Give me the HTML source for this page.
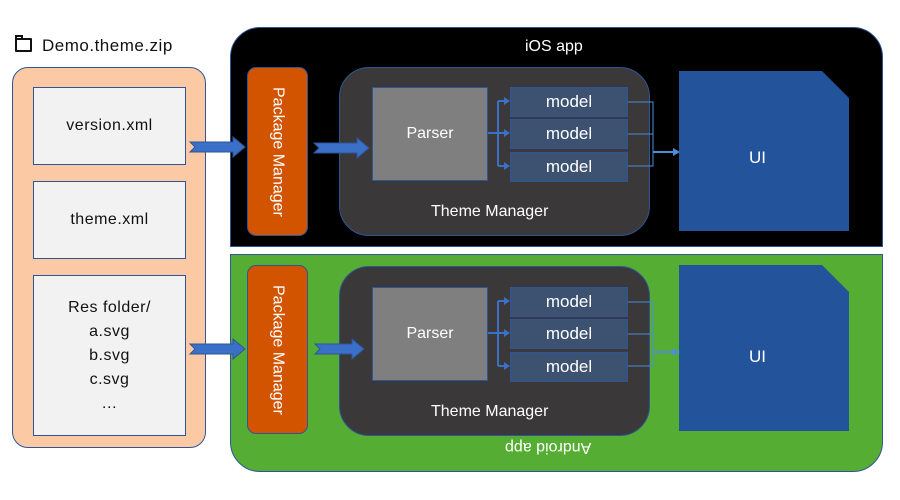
<!DOCTYPE html>
<html><head><style>
body{margin:0;width:900px;height:500px;background:#fff;position:relative;overflow:hidden;font-family:"Liberation Sans","DejaVu Sans",sans-serif}
.a{position:absolute;box-sizing:border-box}
.c{display:flex;align-items:center;justify-content:center;text-align:center}
.f{background:#f2f2f2;border:1px solid #2f5597;color:#111;font-size:16px;letter-spacing:0.5px}
.pm{background:#d35400;border:1px solid #2f5597;border-radius:9px;color:#fff;font-size:16px;writing-mode:vertical-rl}
.tm{background:#3a3838;border:1px solid #2f5597;border-radius:30px}
.ps{background:#7f7f7f;border:1px solid #2f5597;color:#fff;font-size:16px}
.md{background:#3d5270;border:1px solid #2f5597;color:#fff;font-size:17px}
.t{color:#fff;font-size:16px;position:absolute}
</style></head><body>
<div class="a" style="left:15px;top:38px;width:17px;height:14px;border:2px solid #111;border-radius:1px"></div>
<div class="a" style="left:15px;top:35px;width:8px;height:4px;border:2px solid #111;border-bottom:none"></div>
<div class="a" style="left:42px;top:36px;font-size:17px;color:#111;letter-spacing:0.5px">Demo.theme.zip</div>
<div class="a" style="left:12px;top:67px;width:194px;height:381px;background:#fbcaa5;border:1px solid #2f5597;border-radius:16px"></div>
<div class="a f c" style="left:33px;top:87px;width:153px;height:78px">version.xml</div>
<div class="a f c" style="left:33px;top:181px;width:153px;height:78px">theme.xml</div>
<div class="a f c" style="left:33px;top:275px;width:153px;height:161px;line-height:24px">Res folder/<br>a.svg<br>b.svg<br>c.svg<br>…</div>

<div class="a" style="left:230px;top:27px;width:653px;height:220px;background:#000;border:1px solid #2f5597;border-radius:30px 30px 0 0"></div>
<div class="a" style="left:230px;top:254px;width:653px;height:218px;background:#56ad33;border:1px solid #2f5597;border-radius:0 0 30px 30px"></div>
<div class="t" style="left:525px;top:38px">iOS app</div>
<div class="t" style="left:505px;top:438px;transform:rotate(180deg)">Android app</div>

<div class="a pm c" style="left:247px;top:67px;width:61px;height:169px">Package Manager</div>
<div class="a pm c" style="left:247px;top:265px;width:61px;height:169px">Package Manager</div>
<div class="a tm" style="left:339px;top:67px;width:311px;height:169px"></div>
<div class="a tm" style="left:339px;top:266px;width:311px;height:170px"></div>
<div class="t" style="left:431px;top:203px">Theme Manager</div>
<div class="t" style="left:431px;top:403px">Theme Manager</div>
<div class="a ps c" style="left:372px;top:87px;width:116px;height:94px">Parser</div>
<div class="a ps c" style="left:372px;top:287px;width:116px;height:94px">Parser</div>
<div class="a md c" style="left:510px;top:87px;width:118px;height:30px">model</div>
<div class="a md c" style="left:510px;top:119px;width:118px;height:30px">model</div>
<div class="a md c" style="left:510px;top:152px;width:118px;height:30px">model</div>
<div class="a md c" style="left:510px;top:287px;width:118px;height:30px">model</div>
<div class="a md c" style="left:510px;top:319px;width:118px;height:30px">model</div>
<div class="a md c" style="left:510px;top:352px;width:118px;height:30px">model</div>

<svg class="a" style="left:0;top:0" width="900" height="500">
<g fill="#23539a">
<polygon points="679,71 822,71 849,98 849,231 679,231"/>
<polygon points="679,265 822,265 849,292 849,431 679,431"/>
</g>
<g fill="#3a70c8" stroke="#2f5597" stroke-width="1">
<polygon points="190,142 233,142 233,137 245,147 233,157 233,152 190,152 195,147"/>
<polygon points="314,143 357,143 357,138 369,148 357,158 357,153 314,153 319,148"/>
<polygon points="190,344 233,344 233,339 245,349 233,359 233,354 190,354 195,349"/>
<polygon points="295,344 332,344 332,339 344,349 332,359 332,354 295,354 300,349" transform="translate(20,0)"/>
</g>
<g stroke="#3a70c8" stroke-width="2" fill="none">
<path d="M488,133 H498 M498,101 V166 M498,101 H506 M498,133 H506 M498,166 H506"/>
<path d="M488,333 H498 M498,301 V366 M498,301 H506 M498,333 H506 M498,366 H506"/>
</g>
<g fill="#3a70c8">
<polygon points="510,101 504,97 504,105"/><polygon points="510,133 504,129 504,137"/><polygon points="510,166 504,162 504,170"/>
<polygon points="510,301 504,297 504,305"/><polygon points="510,333 504,329 504,337"/><polygon points="510,366 504,362 504,370"/>
</g>
<g stroke="#4a8fd8" stroke-width="1" fill="none">
<path d="M628,102 H653 V166 H628 M628,134 H653"/>
<path d="M628,302 H653 V366 H628 M628,334 H653"/>
</g>
<g stroke="#4a8fd8" stroke-width="2"><path d="M653,152 H674"/><path d="M653,352 H674"/></g>
<g fill="#4a8fd8"><polygon points="680,152 673,148 673,156"/><polygon points="680,352 673,348 673,356"/></g>
</svg>
<div class="t" style="left:749px;top:148px;font-size:17px">UI</div>
<div class="t" style="left:749px;top:347px;font-size:17px">UI</div>
</body></html>
